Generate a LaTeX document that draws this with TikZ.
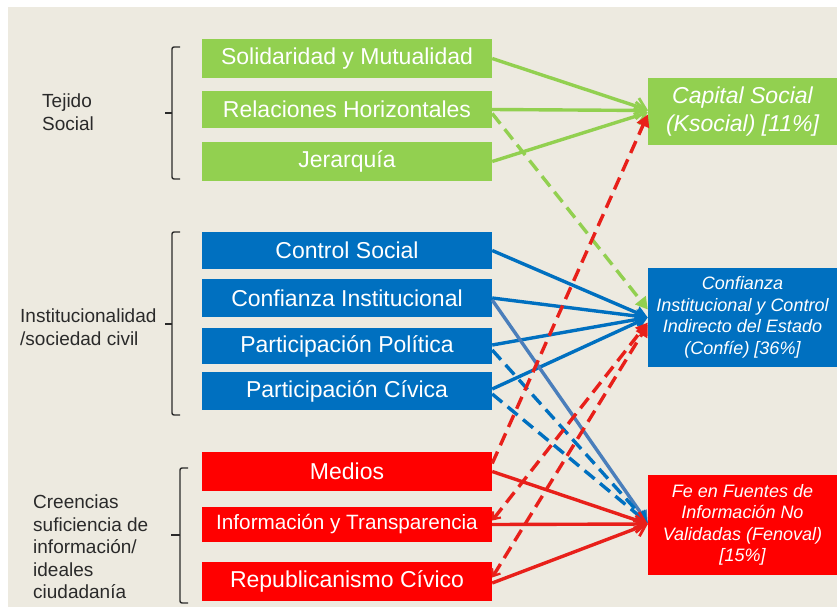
\documentclass[tikz,border=0pt]{standalone}
\usepackage{fontspec}
\setmainfont{Liberation Sans}
\usetikzlibrary{arrows.meta}
\definecolor{bgc}{HTML}{EDEAE0}
\definecolor{grn}{HTML}{92D050}
\definecolor{blu}{HTML}{0070C0}
\definecolor{stl}{HTML}{4A7EBB}
\definecolor{rd}{HTML}{FF0000}
\definecolor{rdl}{HTML}{E8201A}
\definecolor{txt}{HTML}{2A2A2A}
\begin{document}
\begin{tikzpicture}[x=1pt,y=-1pt,
  lbox/.style={minimum width=290pt, minimum height=38pt, inner sep=0pt, text=white,
    font=\fontsize{23}{26}\selectfont},
  rbox/.style={minimum width=189pt, inner sep=0pt, text=white, align=center,
    font=\fontsize{18}{21.5}\selectfont\itshape},
  lab/.style={align=left, anchor=west, text=txt, inner sep=0pt,
    font=\fontsize{19}{22.5}\selectfont},
  brk/.style={line width=1.4pt, draw=txt, rounded corners=2pt},
  conn/.style={line width=3.4pt},
  dsh/.style={conn, dash pattern=on 13pt off 7pt},
  opn/.style={-{Straight Barb[length=10pt,width=17pt,line width=2.8pt]}},
  tri/.style={-{Triangle[length=12pt,width=13pt]}},
  bitri/.style={{Straight Barb[length=6pt,width=10pt,line width=2.2pt]}-{Triangle[length=12pt,width=13pt]}}
]
\useasboundingbox (0,0) rectangle (837,607);
\fill[white] (0,0) rectangle (837,607);
\fill[bgc] (8,7) rectangle (837,607);

% left boxes
\node[lbox, fill=grn, minimum height=39pt] (sol) at (347,58.5) {Solidaridad y Mutualidad};
\node[lbox, fill=grn, minimum height=37pt] (rel) at (347,109.5) {Relaciones Horizontales};
\node[lbox, fill=grn, minimum height=39pt] (jer) at (347,161.5) {Jerarquía};

\node[lbox, fill=blu, minimum height=37pt] (ctrl) at (347,250.5) {Control Social};
\node[lbox, fill=blu, minimum height=38pt] (cinst) at (347,298) {Confianza Institucional};
\node[lbox, fill=blu, minimum height=36pt] (pol) at (347,346) {Participación Política};
\node[lbox, fill=blu, minimum height=38pt] (civ) at (347,391) {Participación Cívica};

\node[lbox, fill=rd, minimum height=39pt] (med) at (347,471.5) {Medios};
\node[lbox, fill=rd, minimum height=35pt, font=\fontsize{20.7}{24}\selectfont] (inf) at (347,524.5) {Información y Transparencia};
\node[lbox, fill=rd, minimum height=39pt] (rep) at (347,581.5) {Republicanismo Cívico};

% right boxes
\node[rbox, fill=grn, minimum height=67pt, font=\fontsize{23}{28}\selectfont\itshape] (cap) at (742.5,111.5)
  {Capital Social\\(Ksocial) [11\%]};
\node[rbox, fill=blu, minimum height=99pt] (conf) at (742.5,317.5)
  {Confianza\\Institucional y Control\\Indirecto del Estado\\(Confíe) [36\%]};
\node[rbox, fill=rd, minimum height=100pt] (fe) at (742.5,525)
  {Fe en Fuentes de\\Información No\\Validadas (Fenoval)\\{[15\%]}};

% left labels
\node[lab] (tej) at (42,112) {Tejido\\Social};
\node[lab] (ins) at (20,327) {Institucionalidad\\/sociedad civil};
\node[lab] (cre) at (33,547) {Creencias\\suficiencia de\\información/\\ideales\\ciudadanía};

% brackets
\draw[brk] (180,47) -- (172,47) -- (172,179) -- (180,179);
\draw[brk] (172,113) -- (165,113);
\draw[brk] (180,232) -- (172,232) -- (172,415) -- (180,415);
\draw[brk] (172,324) -- (165,324);
\draw[brk] (188,468) -- (180,468) -- (180,603) -- (188,603);
\draw[brk] (180,535) -- (171,535);

% green connectors
\draw[conn, grn, opn] (sol.east) -- ([yshift=1.5pt]cap.west);
\draw[conn, grn, opn] (rel.east) -- ([yshift=1pt]cap.west);
\draw[conn, grn, opn] (jer.east) -- ([yshift=-1pt]cap.west);
\draw[dsh, grn, tri] ([yshift=-4pt]rel.east) -- ([yshift=8pt]conf.west);

% blue connectors
\draw[conn, blu, tri] (ctrl.east) -- (conf.west);
\draw[conn, blu, tri] (cinst.east) -- (conf.west);
\draw[conn, blu, tri] ([yshift=1pt]pol.east) -- (conf.west);
\draw[conn, blu, tri] ([yshift=2pt]civ.east) -- (conf.west);
\draw[conn, stl, tri] ([yshift=-2pt]cinst.east) -- ([yshift=2pt]fe.west);
\draw[dsh, blu, tri] ([yshift=-4pt]pol.east) -- ([yshift=2pt]fe.west);
\draw[dsh, blu, tri] ([yshift=-3pt]civ.east) -- ([yshift=2pt]fe.west);

% red connectors
\draw[conn, rdl, opn] (med.east) -- ([yshift=1pt]fe.west);
\draw[conn, rdl, opn] (inf.east) -- ([yshift=1pt]fe.west);
\draw[conn, rdl, opn] ([yshift=-1.5pt]rep.east) -- ([yshift=1pt]fe.west);
\draw[dsh, rdl, tri] ([yshift=8pt]med.east) -- ([yshift=-3pt]cap.west);
\draw[dsh, rdl, bitri] ([yshift=4pt]inf.east) -- ([yshift=-5pt]conf.west);
\draw[dsh, rdl, bitri] ([yshift=4pt]rep.east) -- ([yshift=-7pt]conf.west);
\end{tikzpicture}
\end{document}
